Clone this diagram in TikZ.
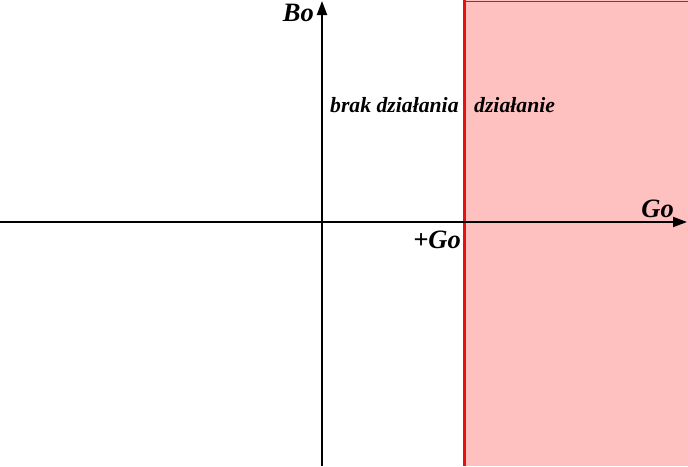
\documentclass[tikz,border=0pt]{standalone}
\usepackage{fontspec}
\setmainfont{Liberation Serif}
\usetikzlibrary{arrows.meta}
\definecolor{pinkfill}{HTML}{FFC0C0}
\definecolor{redline}{HTML}{E81010}
\tikzset{
  axis/.style={line width=2pt, -{Triangle[length=14pt,width=10pt]}},
  biglbl/.style={inner sep=0pt, font=\bfseries\itshape\fontsize{26.5}{30}\selectfont},
  smalllbl/.style={inner sep=0pt, font=\bfseries\itshape\fontsize{21.7}{25}\selectfont},
}
\begin{document}
\begin{tikzpicture}[x=1pt,y=-1pt]
\useasboundingbox (0,0) rectangle (688,466);
\fill[pinkfill] (464.5,0) rectangle (688,466);
\draw[redline, line width=0.8pt] (464.5,1) -- (688,1);
\draw[redline, line width=2.6pt] (464.5,0) -- (464.5,466);
\coordinate (xs) at (0,222);
\coordinate (xe) at (687,222);
\coordinate (ys) at (322,466);
\coordinate (ye) at (322,1);
\draw[axis] (xs) -- (xe);
\draw[axis] (ys) -- (ye);
\node[biglbl, anchor=east] (bo) at (314,13) {Bo};
\node[biglbl, anchor=east] (go) at (674,209) {Go};
\node[biglbl, anchor=east] (pgo) at (461,240) {+Go};
\node[smalllbl, anchor=west] (brak) at (330,105) {brak działania};
\node[smalllbl, anchor=west] (dz) at (474,105) {działanie};
\end{tikzpicture}
\end{document}
